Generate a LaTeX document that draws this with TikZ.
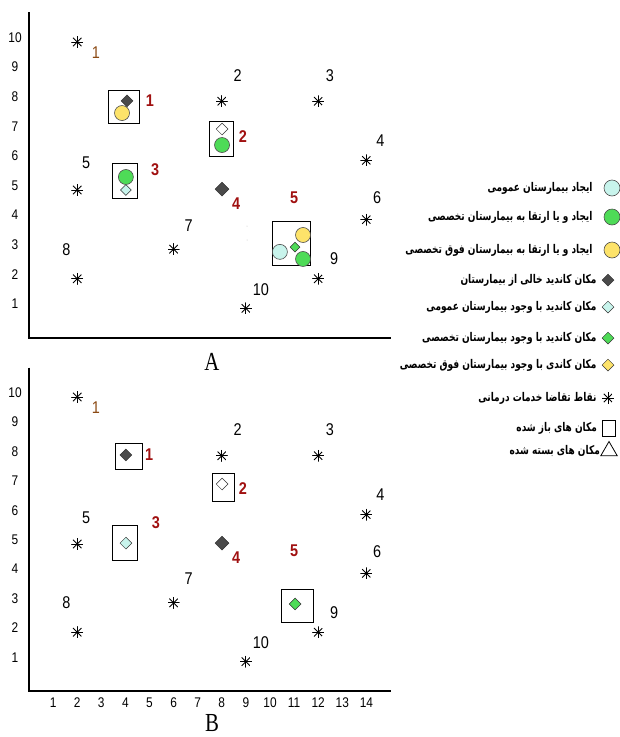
\documentclass[tikz,border=0pt]{standalone}
\usepackage{fontspec}
\setmainfont[FakeStretch=0.85]{Liberation Sans}
\newfontfamily\capfont[FakeStretch=0.8]{Liberation Serif}
\newfontfamily\arabicfont[Script=Arabic,FakeStretch=0.75]{DejaVu Sans}
\TeXXeTstate=1
\usetikzlibrary{shapes.geometric, positioning}

\definecolor{gencyan}{HTML}{C8F4EC}
\definecolor{specgreen}{HTML}{4EDB57}
\definecolor{supyellow}{HTML}{FDE36A}
\definecolor{emptygray}{HTML}{4A4A4A}
\definecolor{labred}{HTML}{A01010}
\definecolor{labbrown}{HTML}{8B4A14}

\tikzset{
    axis/.style={line width=1.6pt},
    demand/.style={
        circle, minimum size=12pt, inner sep=0pt,
        path picture={
            \foreach \a in {0,45,90,135}
                \draw[line width=0.9pt, shift={(path picture bounding box.center)}]
                    (\a:6pt) -- (\a+180:6pt);
        }
    },
    hosp/.style={circle, draw=black!70, line width=0.6pt, minimum size=15pt, inner sep=0pt},
    cand/.style={diamond, draw=black!80, line width=0.5pt, minimum size=12pt, inner sep=0pt},
    openbox/.style={draw, line width=0.9pt, inner sep=0pt},
    ptlbl/.style={font=\fontsize{17}{17}\selectfont},
    ticklbl/.style={font=\fontsize{14}{14}\selectfont},
    sitelbl/.style={text=labred, font=\bfseries\fontsize{17}{17}\selectfont},
    panelname/.style={font=\capfont\fontsize{26}{26}\selectfont},
    legtxt/.style={inner sep=1pt, font=\arabicfont\bfseries\fontsize{12}{12}\selectfont}
}

\begin{document}
\begin{tikzpicture}[x=1pt, y=-1pt]
\useasboundingbox (0,0) rectangle (620,737);

% axes, ticks and demand points of both maps
\foreach \p/\oy/\sy in {A/338/29.6pt, B/691/29.4pt} {
    \begin{scope}[shift={(29,\oy)}, x=24.1pt, y=\sy]
        \draw[axis] (0,11) -- (0,0) -- (15,0);
        \foreach \v in {1,...,10}
            \node[ticklbl] (\p-y\v) at (-0.58,\v+0.15) {\v};
        \foreach \i/\x/\y/\dx/\dy/\c in {1/2/10/0.78/-0.37/labbrown, 2/8/8/0.66/0.88/black,
                3/12/8/0.49/0.88/black, 4/14/6/0.58/0.68/black, 5/2/5/0.37/0.91/black,
                6/14/4/0.45/0.74/black, 7/6/3/0.62/0.81/black, 8/2/2/-0.45/1.0/black,
                9/12/2/0.66/0.68/black, 10/9/1/0.62/0.64/black} {
            \node[demand] (\p-s\i) at (\x,\y) {};
            \node[ptlbl, text=\c, shift={(\dx,\dy)}] (\p-n\i) at (\x,\y) {\i};
        }
    \end{scope}
}

% map A
\begin{scope}[shift={(29,338)}, x=24.1pt, y=29.6pt]
    \node[openbox, minimum width=31pt, minimum height=33pt] (A-o1) at (3.96,7.82) {};
    \node[cand, fill=emptygray] (A-c1) at (4.07,8.01) {};
    \node[hosp, fill=supyellow] (A-h1) at (3.86,7.60) {};
    \node[sitelbl] (A-r1) at (5.02,8.01) {1};

    \node[openbox, minimum width=24pt, minimum height=35pt] (A-o2) at (7.97,6.71) {};
    \node[cand, fill=white] (A-c2) at (8.01,7.06) {};
    \node[hosp, fill=specgreen] (A-h2) at (8.01,6.52) {};
    \node[sitelbl] (A-r2) at (8.88,6.82) {2};

    \node[openbox, minimum width=25pt, minimum height=35pt] (A-o3) at (4.00,5.29) {};
    \node[cand, fill=gencyan, minimum size=11pt] (A-c3) at (4.02,5.00) {};
    \node[hosp, fill=specgreen] (A-h3) at (4.02,5.44) {};
    \node[sitelbl] (A-r3) at (5.23,5.68) {3};

    \node[cand, fill=emptygray, minimum size=14pt] (A-c4) at (8.01,5.03) {};
    \node[sitelbl] (A-r4) at (8.59,4.53) {4};

    \node[openbox, minimum width=38pt, minimum height=44pt] (A-o5) at (10.91,3.18) {};
    \node[cand, fill=specgreen, minimum size=10pt] (A-c5) at (11.04,3.07) {};
    \node[hosp, fill=gencyan] (A-h5a) at (10.41,2.91) {};
    \node[hosp, fill=supyellow] (A-h5b) at (11.37,3.48) {};
    \node[hosp, fill=specgreen] (A-h5c) at (11.37,2.67) {};
    \node[sitelbl] (A-r5) at (11.00,4.73) {5};

    \node[circle, fill=black!25, minimum size=1pt, inner sep=0pt] (A-dot1) at (9.05,3.78) {};
    \node[circle, fill=black!25, minimum size=1pt, inner sep=0pt] (A-dot2) at (9.05,3.31) {};
\end{scope}

% map B
\begin{scope}[shift={(29,691)}, x=24.1pt, y=29.4pt]
    \foreach \v in {1,...,14}
        \node[ticklbl] (B-x\v) at (\v,-0.41) {\v};

    \node[openbox, minimum width=27pt, minimum height=26pt] (B-o1) at (4.13,7.99) {};
    \node[cand, fill=emptygray] (B-c1) at (4.02,8.03) {};
    \node[sitelbl] (B-r1) at (4.98,8.03) {1};

    \node[openbox, minimum width=22pt, minimum height=28pt] (B-o2) at (8.05,6.94) {};
    \node[cand, fill=white] (B-c2) at (8.01,7.04) {};
    \node[sitelbl] (B-r2) at (8.88,6.90) {2};

    \node[openbox, minimum width=25pt, minimum height=35pt] (B-o3) at (4.00,5.02) {};
    \node[cand, fill=gencyan] (B-c3) at (4.02,5.03) {};
    \node[sitelbl] (B-r3) at (5.27,5.71) {3};

    \node[cand, fill=emptygray, minimum size=14pt] (B-c4) at (8.01,5.03) {};
    \node[sitelbl] (B-r4) at (8.59,4.52) {4};

    \node[openbox, minimum width=32pt, minimum height=33pt] (B-o5) at (11.12,2.91) {};
    \node[cand, fill=specgreen] (B-c5) at (11.04,2.96) {};
    \node[sitelbl] (B-r5) at (11.00,4.76) {5};
\end{scope}

\node[panelname] (capA) at (212,362) {A};
\node[panelname] (capB) at (212,723) {B};

% legend
\node[hosp, fill=gencyan, minimum size=16pt] (lg1) at (612,188) {};
\node[legtxt, left=10pt of lg1] (lt1) {\beginR ایجاد بیمارستان عمومی\endR};
\node[hosp, fill=specgreen, minimum size=16pt] (lg2) at (612,217) {};
\node[legtxt, left=10pt of lg2] (lt2) {\beginR ایجاد و یا ارتقا به بیمارستان تخصصی\endR};
\node[hosp, fill=supyellow, minimum size=16pt] (lg3) at (612,250) {};
\node[legtxt, left=10pt of lg3] (lt3) {\beginR ایجاد و یا ارتقا به بیمارستان فوق تخصصی\endR};
\node[cand, fill=emptygray] (lg4) at (608,280) {};
\node[legtxt, left=4pt of lg4] (lt4) {\beginR مکان کاندید خالی از بیمارستان\endR};
\node[cand, fill=gencyan] (lg5) at (608,307) {};
\node[legtxt, left=4pt of lg5] (lt5) {\beginR مکان کاندید با وجود بیمارستان عمومی\endR};
\node[cand, fill=specgreen] (lg6) at (608,338) {};
\node[legtxt, left=4pt of lg6] (lt6) {\beginR مکان کاندید با وجود بیمارستان تخصصی\endR};
\node[cand, fill=supyellow] (lg7) at (608,365) {};
\node[legtxt, left=4pt of lg7] (lt7) {\beginR مکان کاندی با وجود بیمارستان فوق تخصصی\endR};
\node[demand] (lg8) at (608,398) {};
\node[legtxt, left=4pt of lg8] (lt8) {\beginR نقاط تقاضا خدمات درمانی\endR};
\node[draw, line width=0.8pt, minimum width=13pt, minimum height=16pt, inner sep=0pt] (lg9) at (609,428) {};
\node[legtxt, left=4pt of lg9] (lt9) {\beginR مکان های باز شده\endR};
\node[regular polygon, regular polygon sides=3, draw, line width=0.8pt, minimum size=19pt, inner sep=0pt] (lg10) at (609,451) {};
\node[legtxt, left=2pt of lg10] (lt10) {\beginR مکان های بسته شده\endR};
\end{tikzpicture}
\end{document}
